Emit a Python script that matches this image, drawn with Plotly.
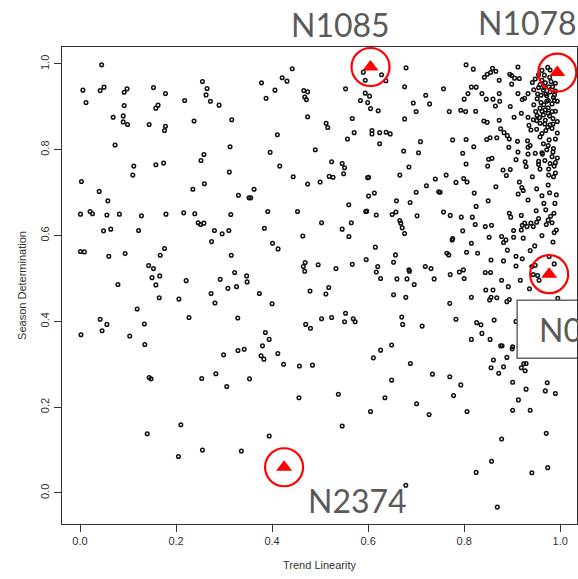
import plotly.graph_objects as go

# Trend linearity (x) and season determination (y) for every series
trend_linearity = [
    0.045, 0.006, 0.042, 0.050, 0.0125, 0.092, 0.098, 0.153, 0.178, 0.092, 0.069, 0.090, 0.090, 0.099,
    0.1625, 0.158, 0.144, 0.178, 0.176, 0.218, 0.2375, 0.255, 0.2646, 0.2625, 0.2715, 0.2896, 0.316,
    0.073, 0.3125, 0.112, 0.110, 0.158, 0.174, 0.258, 0.252, 0.311, 0.003, 0.040, 0.058, 0.235, 0.259,
    0.330, 0.352, 0.001, 0.021, 0.026, 0.056, 0.082, 0.128, 0.179, 0.216, 0.239, 0.314, 0.246, 0.251,
    0.258, 0.049, 0.064, 0.122, 0.280, 0.296, 0.310, 0.274, 0.001, 0.009, 0.060, 0.094, 0.176, 0.167,
    0.315, 0.143, 0.153,
    0.150, 0.166, 0.158, 0.079, 0.165, 0.221, 0.206, 0.292, 0.322, 0.347, 0.348, 0.273, 0.281, 0.308,
    0.326, 0.119, 0.042, 0.056, 0.046, 0.002, 0.1035, 0.134, 0.135, 0.227, 0.3285, 0.299, 0.329, 0.342,
    0.144, 0.148, 0.2535, 0.283, 0.3056, 0.353, 0.210, 0.140, 0.205, 0.255, 0.336,
    0.442, 0.421, 0.431, 0.378, 0.406, 0.3875, 0.466, 0.474, 0.468, 0.4715, 0.553, 0.590, 0.594, 0.628,
    0.637, 0.679, 0.676, 0.594, 0.603, 0.584, 0.599, 0.605, 0.621, 0.720, 0.728, 0.694, 0.700, 0.676,
    0.474, 0.5125, 0.516, 0.567, 0.411, 0.571, 0.557, 0.608, 0.608, 0.624, 0.6375, 0.646, 0.624, 0.709,
    0.674, 0.705, 0.396, 0.490, 0.416, 0.524, 0.546, 0.551, 0.549, 0.444, 0.474, 0.500, 0.519, 0.527,
    0.599, 0.601, 0.685, 0.666, 0.740, 0.7215, 0.3625, 0.3556, 0.613, 0.601, 0.700, 0.6875, 0.659,
    0.5597, 0.747, 0.391, 0.453, 0.595, 0.597, 0.617, 0.650, 0.658, 0.666, 0.668, 0.671, 0.676, 0.702,
    0.384, 0.503, 0.565, 0.546, 0.560, 0.464, 0.401, 0.4125, 0.615, 0.657, 0.596, 0.653, 0.469, 0.465,
    0.496, 0.533, 0.567, 0.620, 0.719, 0.731, 0.685,
    0.468, 0.617, 0.626, 0.660, 0.681, 0.696, 0.686, 0.7375, 0.3736, 0.400, 0.479, 0.518, 0.512, 0.653,
    0.6785, 0.553, 0.551, 0.524, 0.503, 0.569, 0.573, 0.470, 0.480, 0.670, 0.672, 0.7125, 0.386, 0.394,
    0.380, 0.377, 0.383, 0.412, 0.424, 0.457, 0.484, 0.649, 0.626, 0.611, 0.688, 0.734, 0.649, 0.456,
    0.538, 0.635, 0.701, 0.727, 0.605, 0.546, 0.394, 0.6785,
    0.804, 0.819, 0.859, 0.855, 0.848, 0.842, 0.866, 0.873, 0.895, 0.899, 0.905, 0.915, 0.912, 0.899,
    0.942, 0.757, 0.815, 0.825, 0.837, 0.846, 0.860, 0.865, 0.873, 0.874, 0.808, 0.800, 0.896, 0.912,
    0.926, 0.933, 0.921, 0.769, 0.793, 0.803, 0.824, 0.841, 0.848, 0.873, 0.876, 0.883, 0.890, 0.894,
    0.904, 0.919, 0.933, 0.944, 0.951, 0.935, 0.939, 0.951, 0.776, 0.804, 0.820, 0.847, 0.854, 0.868,
    0.893, 0.911, 0.932, 0.9375, 0.912, 0.933, 0.933, 0.948, 0.962, 0.797, 0.804, 0.851, 0.858, 0.849,
    0.881, 0.896, 0.888, 0.908, 0.927, 0.929, 0.955, 0.915, 0.942, 0.951, 0.955, 0.976, 0.990, 0.986,
    0.7625, 0.783, 0.799, 0.806, 0.821, 0.866, 0.9125, 0.923, 0.962, 0.975, 0.989, 0.750, 0.850, 0.933,
    0.950, 0.966, 0.757, 0.771, 0.794, 0.817, 0.825, 0.894, 0.897, 0.919, 0.926, 0.921, 0.939, 0.975,
    0.983, 0.992, 0.9875, 0.857, 0.903, 0.919, 0.951, 0.971, 0.776, 0.797, 0.823, 0.852, 0.878,
    0.974, 0.979, 0.967, 0.978, 0.969, 0.981, 0.976, 0.984, 0.965, 0.979, 0.990, 0.990, 0.960, 0.972,
    0.986, 0.994, 0.952, 0.960, 0.966, 0.972, 0.983, 0.958, 0.969, 0.983, 0.965, 0.978, 0.985, 0.969,
    0.994, 0.974, 0.983, 0.962, 0.979, 0.945, 0.949, 0.994, 0.977, 0.965, 0.986, 0.972, 0.983, 0.994,
    0.979, 0.9875, 0.976, 0.955, 0.962, 0.970, 0.988, 0.975, 0.957, 0.990, 0.968,
    0.987, 0.920, 0.931, 0.944, 0.844, 0.887, 0.882, 0.903, 0.923,
    0.775, 0.815, 0.764, 0.768, 0.805, 0.828, 0.771, 0.790, 0.7985, 0.800, 0.844, 0.855, 0.856, 0.882,
    0.908, 0.921, 0.908, 0.9375, 0.947, 0.890, 0.878, 0.892, 0.917, 0.936, 0.941, 0.944, 0.948, 0.953,
    0.956, 0.977, 0.9875, 0.770, 0.815, 0.845, 0.860, 0.853, 0.856, 0.868, 0.889, 0.894, 0.995, 0.783,
    0.826, 0.835, 0.8625, 0.815, 0.837, 0.854, 0.876, 0.879, 0.901, 0.900, 0.889, 0.908, 0.861, 0.856,
    0.882, 0.872, 0.919, 0.924, 0.927, 0.929, 0.770, 0.793, 0.778, 0.806, 0.901, 0.929, 0.913, 0.901,
    0.9375, 0.973, 0.969, 0.990, 0.971, 0.878,
    0.857, 0.825, 0.941, 0.974, 0.869,
    0.955, 0.962, 0.948, 0.958, 0.945, 0.953, 0.967, 0.975, 0.988, 0.962, 0.975, 0.952, 0.958, 0.985,
    0.970, 0.958, 0.990, 0.975, 0.963, 0.985, 0.968, 0.990, 0.958, 0.978, 0.992, 0.970, 0.980, 0.955,
    0.962, 0.985,
]

season_determination = [
    0.998, 0.939, 0.938, 0.946, 0.910, 0.934, 0.942, 0.945, 0.931, 0.903, 0.876, 0.879, 0.865, 0.859,
    0.904, 0.897, 0.859, 0.855, 0.845, 0.915, 0.867, 0.959, 0.943, 0.928, 0.913, 0.904, 0.870,
    0.811, 0.807, 0.762, 0.741, 0.765, 0.769, 0.789, 0.775, 0.748, 0.726, 0.703, 0.681, 0.708, 0.721,
    0.694, 0.688, 0.650, 0.656, 0.651, 0.648, 0.650, 0.646, 0.650, 0.653, 0.651, 0.649, 0.630, 0.626,
    0.629, 0.611, 0.615, 0.612, 0.612, 0.604, 0.612, 0.586, 0.563, 0.562, 0.552, 0.558, 0.570, 0.554,
    0.554, 0.530, 0.523,
    0.502, 0.506, 0.485, 0.486, 0.455, 0.495, 0.452, 0.498, 0.514, 0.506, 0.492, 0.465, 0.443, 0.477,
    0.481, 0.429, 0.405, 0.393, 0.378, 0.369, 0.366, 0.394, 0.346, 0.409, 0.408, 0.322, 0.332, 0.335,
    0.269, 0.266, 0.267, 0.278, 0.248, 0.266, 0.159, 0.138, 0.085, 0.100, 0.098,
    0.989, 0.968, 0.960, 0.956, 0.939, 0.920, 0.938, 0.935, 0.923, 0.917, 0.942, 0.981, 0.962, 0.975,
    0.961, 0.991, 0.947, 0.932, 0.925, 0.915, 0.910, 0.896, 0.891, 0.927, 0.907, 0.909, 0.889, 0.872,
    0.877, 0.862, 0.852, 0.873, 0.835, 0.840, 0.825, 0.845, 0.837, 0.840, 0.841, 0.837, 0.814, 0.819,
    0.797, 0.793, 0.794, 0.800, 0.762, 0.772, 0.768, 0.758, 0.744, 0.737, 0.720, 0.725, 0.738, 0.736,
    0.735, 0.736, 0.760, 0.741, 0.732, 0.716, 0.708, 0.688, 0.699, 0.692, 0.701, 0.677, 0.681,
    0.672, 0.702, 0.656, 0.656, 0.656, 0.657, 0.648, 0.649, 0.655, 0.635, 0.629, 0.618, 0.605, 0.646,
    0.617, 0.630, 0.630, 0.615, 0.598, 0.599, 0.582, 0.569, 0.573, 0.555, 0.544, 0.538, 0.537, 0.528,
    0.532, 0.523, 0.533, 0.528, 0.528, 0.523, 0.520,
    0.517, 0.515, 0.500, 0.499, 0.499, 0.486, 0.517, 0.499, 0.465, 0.441, 0.471, 0.479, 0.464, 0.462,
    0.456, 0.419, 0.399, 0.409, 0.406, 0.406, 0.399, 0.393, 0.384, 0.410, 0.393, 0.389, 0.374, 0.358,
    0.343, 0.320, 0.312, 0.325, 0.300, 0.296, 0.298, 0.345, 0.333, 0.315, 0.302, 0.277, 0.263, 0.222,
    0.230, 0.222, 0.208, 0.183, 0.190, 0.156, 0.133, 0.018,
    0.998, 0.988, 0.990, 0.980, 0.976, 0.969, 0.983, 0.962, 0.976, 0.973, 0.967, 0.966, 0.993, 0.953,
    0.957, 0.942, 0.946, 0.946, 0.931, 0.918, 0.918, 0.902, 0.931, 0.913, 0.931, 0.918, 0.901, 0.931,
    0.920, 0.931, 0.917, 0.889, 0.892, 0.889, 0.890, 0.867, 0.864, 0.869, 0.849, 0.840, 0.833, 0.825,
    0.876, 0.885, 0.876, 0.870, 0.868, 0.857, 0.846, 0.848, 0.823, 0.824, 0.807, 0.824, 0.828, 0.828,
    0.806, 0.820, 0.821, 0.810, 0.795, 0.806, 0.790, 0.792, 0.793, 0.792, 0.767, 0.778, 0.780, 0.762,
    0.753, 0.754, 0.740, 0.777, 0.772, 0.761, 0.773, 0.725, 0.737, 0.709, 0.766, 0.741, 0.746, 0.737,
    0.741, 0.724, 0.733, 0.725, 0.699, 0.714, 0.697, 0.705, 0.693, 0.718, 0.675, 0.701, 0.681, 0.683,
    0.658, 0.675, 0.655, 0.647, 0.643, 0.643, 0.668, 0.652, 0.643, 0.647, 0.629, 0.624, 0.629, 0.636,
    0.630, 0.613, 0.607, 0.624, 0.612, 0.613, 0.631, 0.626, 0.593, 0.611, 0.626, 0.596, 0.598,
    0.992, 0.986, 0.974, 0.969, 0.956, 0.959, 0.947, 0.947, 0.939, 0.935, 0.955, 0.937, 0.927, 0.926,
    0.922, 0.913, 0.919, 0.910, 0.905, 0.913, 0.907, 0.897, 0.893, 0.889, 0.881, 0.879, 0.873, 0.869,
    0.866, 0.853, 0.850, 0.838, 0.858, 0.905, 0.889, 0.839, 0.823, 0.814, 0.803, 0.800, 0.784, 0.781,
    0.768, 0.762, 0.755, 0.945, 0.962, 0.930, 0.928, 0.898, 0.875, 0.890, 0.860,
    0.652, 0.712, 0.621, 0.621, 0.621, 0.590, 0.584, 0.596, 0.594,
    0.590, 0.582, 0.559, 0.555, 0.561, 0.559, 0.509, 0.515, 0.520, 0.500, 0.514, 0.514, 0.543, 0.541,
    0.552, 0.546, 0.529, 0.565, 0.576, 0.566, 0.496, 0.481, 0.496, 0.476, 0.528, 0.509, 0.531, 0.507,
    0.496, 0.551, 0.534, 0.442, 0.456, 0.473, 0.473, 0.450, 0.456, 0.455, 0.446, 0.451, 0.454, 0.405,
    0.397, 0.392, 0.403, 0.358, 0.372, 0.358, 0.343, 0.343, 0.341, 0.336, 0.316, 0.400, 0.310, 0.292,
    0.294, 0.279, 0.292, 0.301, 0.285, 0.302, 0.271, 0.252, 0.227, 0.190, 0.258, 0.242, 0.217, 0.193,
    0.193, 0.257, 0.238, 0.232, 0.139, 0.126,
    0.074, 0.048, 0.047, 0.059, -0.033,
    0.975, 0.985, 0.965, 0.952, 0.940, 0.930, 0.945, 0.915, 0.915, 0.890, 0.885, 0.880, 0.862, 0.860,
    0.845, 0.830, 0.825, 0.810, 0.790, 0.795, 0.775, 0.770, 0.755, 0.700, 0.695, 0.660, 0.645, 0.640,
    0.600, 0.585,
]

# Series singled out with a label
highlight_ids = ["N1085", "N1078", "N0", "N2374"]
highlight_x = [0.605, 0.994, 0.977, 0.425]
highlight_y = [0.993, 0.980, 0.510, 0.060]

# Label placement relative to each highlighted point (pixels)
label_shift = {
    "N1085": (-30, 42),
    "N1078": (-30, 50),
    "N2374": (73, -33),
}

x_ticks = [0.0, 0.2, 0.4, 0.6, 0.8, 1.0]
y_ticks = [0.0, 0.2, 0.4, 0.6, 0.8, 1.0]

axis_font = dict(family="Liberation Sans, Arial, sans-serif", size=11, color="#333333")
label_font = dict(family="Lato, sans-serif", size=32, color="#5a5a5a")

fig = go.Figure()

fig.add_trace(go.Scatter(
    x=trend_linearity, y=season_determination, mode="markers",
    marker=dict(symbol="circle-open", size=3.6, color="#111111", line=dict(width=1.5, color="#111111")),
    hoverinfo="skip", showlegend=False, cliponaxis=True,
))

fig.add_trace(go.Scatter(
    x=highlight_x, y=highlight_y, mode="markers",
    marker=dict(symbol="circle-open", size=38, color="#ff0000", line=dict(width=2.2, color="#ff0000")),
    hoverinfo="skip", showlegend=False, cliponaxis=False,
))

fig.add_trace(go.Scatter(
    x=highlight_x, y=highlight_y, mode="markers",
    marker=dict(symbol="triangle-up", size=14, color="#ff0000", line=dict(width=0)),
    hoverinfo="skip", showlegend=False, cliponaxis=False,
))

annotations = []
shapes = []
for name, hx, hy in zip(highlight_ids, highlight_x, highlight_y):
    if name in label_shift:
        dx, dy = label_shift[name]
        annotations.append(dict(
            x=hx, y=hy, xref="x", yref="y", text=name, showarrow=False,
            xshift=dx, yshift=dy, xanchor="center", yanchor="middle", font=label_font,
        ))
    else:
        # boxed label running off the right edge
        shapes.append(dict(
            type="rect", xref="x", yref="y", xsizemode="pixel", ysizemode="pixel",
            xanchor=hx, yanchor=hy, x0=-32, x1=80, y0=-84, y1=-26,
            line=dict(color="#666666", width=1.5), fillcolor="white", layer="above",
        ))
        annotations.append(dict(
            x=hx, y=hy, xref="x", yref="y", text=name, showarrow=False,
            xshift=-12, yshift=-55, xanchor="left", yanchor="middle", font=label_font,
        ))

fig.update_layout(
    template="none",
    width=578, height=579,
    margin=dict(l=62, r=1, t=47, b=55),
    paper_bgcolor="white", plot_bgcolor="white",
    font=dict(family="Liberation Sans, Arial, sans-serif", color="#333333"),
    showlegend=False,
    annotations=annotations,
    shapes=shapes,
    xaxis=dict(
        range=[-0.0375, 1.035], tickvals=x_ticks, ticktext=[f"{v:.1f}" for v in x_ticks],
        ticks="outside", ticklen=7, tickwidth=1, tickcolor="#333333",
        showline=True, mirror=True, linecolor="#333333", linewidth=1.3,
        showgrid=False, zeroline=False, tickfont=axis_font,
        title=dict(text="Trend Linearity", font=axis_font, standoff=14),
    ),
    yaxis=dict(
        range=[-0.0723, 1.0396], tickvals=y_ticks, ticktext=[f"{v:.1f}" for v in y_ticks],
        ticks="outside", ticklen=7, tickwidth=1, tickcolor="#333333", tickangle=-90,
        showline=True, mirror=True, linecolor="#333333", linewidth=1.3,
        showgrid=False, zeroline=False, tickfont=axis_font,
        title=dict(text="Season Determination", font=axis_font, standoff=10),
    ),
)

fig.write_html("out.html")
